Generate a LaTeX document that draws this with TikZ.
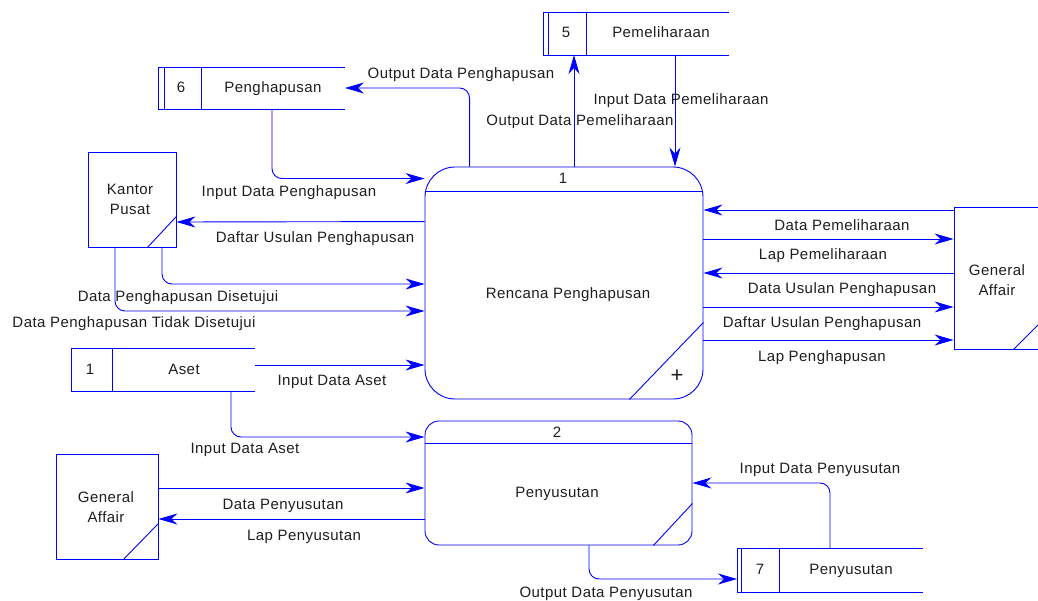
\documentclass[tikz,border=0pt]{standalone}
\usepackage{fontspec}
\usetikzlibrary{arrows.meta,calc}
\newfontfamily\dfdfont[LetterSpace=3]{Liberation Sans}
\definecolor{dfdblue}{RGB}{0,0,255}
\definecolor{ink}{RGB}{30,30,30}
\tikzset{
  line/.style={draw=dfdblue, line width=0.9pt},
  flow/.style={line, rounded corners=10pt, -{Stealth[length=19pt,width=11pt,inset=6pt]}},
  lbl/.style={text=ink, font=\dfdfont\fontsize{15}{20}\selectfont, inner sep=0pt, text height=11pt, text depth=3pt},
  boxtxt/.style={text=ink, font=\dfdfont\fontsize{15}{20}\selectfont, inner sep=0pt, align=center},
  storebox/.style={inner sep=0pt, outer sep=0pt},
}
\begin{document}
\begin{tikzpicture}[x=1pt,y=-1pt]
\useasboundingbox (0,0) rectangle (1038,601);

% ---------- processes ----------
\node[line, inner sep=0pt, minimum width=278pt, minimum height=232pt, rounded corners=30pt] (p1) at (564,283) {};
\draw[line] ([yshift=-25pt]p1.north west) -- ([yshift=-25pt]p1.north east);
\draw[line] ([xshift=-74pt]p1.south east) -- ([yshift=77pt]p1.south east);
\node[lbl] (p1id) at (563,180) {1};
\node[lbl] (p1name) at (568,295) {Rencana Penghapusan};
\node[text=ink, font=\dfdfont\fontsize{22}{22}\selectfont, inner sep=0pt] (p1plus) at (677,376) {+};

\node[line, inner sep=0pt, minimum width=267pt, minimum height=124pt, rounded corners=14pt] (p2) at (558.5,483) {};
\draw[line] ([yshift=-23pt]p2.north west) -- ([yshift=-23pt]p2.north east);
\draw[line] ([xshift=-39pt]p2.south east) -- ([yshift=42pt]p2.south east);
\node[lbl] (p2id) at (557,433) {2};
\node[lbl] (p2name) at (557,493) {Penyusutan};

% ---------- data stores ----------
\node[storebox, minimum width=186pt, minimum height=43pt] (s5) at (636,33.5) {};
\draw[line] (s5.north east) -- (s5.north west) -- (s5.south west) -- (s5.south east);
\draw[line] ([xshift=5pt]s5.north west) -- ([xshift=5pt]s5.south west);
\draw[line] ([xshift=43pt]s5.north west) -- ([xshift=43pt]s5.south west);
\node[lbl] (s5id) at (566,34) {5};
\node[lbl] (s5name) at (661,34) {Pemeliharaan};

\node[storebox, minimum width=187pt, minimum height=42pt] (s6) at (251.5,88) {};
\draw[line] (s6.north east) -- (s6.north west) -- (s6.south west) -- (s6.south east);
\draw[line] ([xshift=6pt]s6.north west) -- ([xshift=6pt]s6.south west);
\draw[line] ([xshift=43pt]s6.north west) -- ([xshift=43pt]s6.south west);
\node[lbl] (s6id) at (181,89) {6};
\node[lbl] (s6name) at (273,89) {Penghapusan};

\node[storebox, minimum width=184pt, minimum height=43pt] (s1) at (163,369.5) {};
\draw[line] (s1.north east) -- (s1.north west) -- (s1.south west) -- (s1.south east);
\draw[line] ([xshift=41pt]s1.north west) -- ([xshift=41pt]s1.south west);
\node[lbl] (s1id) at (90,370) {1};
\node[lbl] (s1name) at (184,370) {Aset};

\node[storebox, minimum width=186pt, minimum height=44pt] (s7) at (830,570) {};
\draw[line] (s7.north east) -- (s7.north west) -- (s7.south west) -- (s7.south east);
\draw[line] ([xshift=4pt]s7.north west) -- ([xshift=4pt]s7.south west);
\draw[line] ([xshift=42pt]s7.north west) -- ([xshift=42pt]s7.south west);
\node[lbl] (s7id) at (760,570) {7};
\node[lbl] (s7name) at (851,570) {Penyusutan};

% ---------- external entities ----------
\node[line, inner sep=0pt, minimum width=88pt, minimum height=95pt] (kp) at (132,199.5) {};
\draw[line] ([xshift=-29pt]kp.south east) -- ([yshift=31pt]kp.south east);
\node[boxtxt] (kptxt) at (130,199) {Kantor\\Pusat};

\node[line, inner sep=0pt, minimum width=102pt, minimum height=105pt] (gal) at (107,506.5) {};
\draw[line] ([xshift=-35pt]gal.south east) -- ([yshift=36pt]gal.south east);
\node[boxtxt] (galtxt) at (106,507) {General\\Affair};

\node[line, inner sep=0pt, minimum width=86pt, minimum height=142pt] (gar) at (997,278) {};
\draw[line] ([xshift=-27pt]gar.south east) -- ([yshift=27pt]gar.south east);
\node[boxtxt] (gartxt) at (997,280) {General\\Affair};

% ---------- flows: top ----------
\draw[flow] ($(p1.north west)+(45,0)$) |- (s6.east);
\node[lbl] (f1) at (461,75) {Output Data Penghapusan};

\draw[flow] ($(s6.south)+(20.5,0)$) |- ($(p1.north west)+(0,12)$);
\node[lbl] (f2) at (289,193) {Input Data Penghapusan};

\draw[flow] ($(p1.north)+(10,0)$) -- ($(s5.south)+(-62,0)$);
\node[lbl] (f3) at (580,122) {Output Data Pemeliharaan};

\draw[flow] ($(s5.south)+(39,0)$) -- ($(p1.north)+(111,0)$);
\node[lbl] (f4) at (681,101) {Input Data Pemeliharaan};

% ---------- flows: Kantor Pusat ----------
\draw[flow] ($(p1.north west)+(0,55)$) -- ($(kp.east)+(0,22.5)$);
\node[lbl] (f5) at (315,239) {Daftar Usulan Penghapusan};

\draw[flow] ($(kp.south)+(30,0)$) |- ($(p1.west)+(0,1)$);
\node[lbl] (f6) at (178,298) {Data Penghapusan Disetujui};

\draw[flow] ($(kp.south)+(-17,0)$) |- ($(p1.west)+(0,28)$);
\node[lbl] (f7) at (134,323) {Data Penghapusan Tidak Disetujui};

% ---------- flows: Aset ----------
\draw[flow] ($(s1.east)+(0,-4.5)$) -- ($(p1.west)+(0,82)$);
\node[lbl] (f8) at (332,381) {Input Data Aset};

\draw[flow] ($(s1.south)+(68,0)$) |- ($(p2.west)+(0,-46)$);
\node[lbl] (f9) at (245,449) {Input Data Aset};

% ---------- flows: General Affair (left) ----------
\draw[flow] ($(gal.east)+(0,-18.5)$) -- ($(p2.west)+(0,5)$);
\node[lbl] (f10) at (283,505) {Data Penyusutan};

\draw[flow] ($(p2.west)+(0,36)$) -- ($(gal.east)+(0,12.5)$);
\node[lbl] (f11) at (304,536) {Lap Penyusutan};

% ---------- flows: Penyusutan store ----------
\draw[flow] ($(p2.south)+(30.5,0)$) |- ($(s7.west)+(0,9)$);
\node[lbl] (f12) at (606,593) {Output Data Penyusutan};

\draw[flow] (s7.north) |- (p2.east);
\node[lbl] (f13) at (820,469) {Input Data Penyusutan};

% ---------- flows: General Affair (right) ----------
\draw[flow] ($(gar.west)+(0,-68)$) -- ($(p1.east)+(0,-73)$);
\node[lbl] (f14) at (842,227) {Data Pemeliharaan};

\draw[flow] ($(p1.east)+(0,-44)$) -- ($(gar.west)+(0,-39)$);
\node[lbl] (f15) at (823,256) {Lap Pemeliharaan};

\draw[flow] ($(gar.west)+(0,-5)$) -- ($(p1.east)+(0,-10)$);
\node[lbl] (f16) at (842,290) {Data Usulan Penghapusan};

\draw[flow] ($(p1.east)+(0,24)$) -- ($(gar.west)+(0,29)$);
\node[lbl] (f17) at (822,323) {Daftar Usulan Penghapusan};

\draw[flow] ($(p1.east)+(0,57)$) -- ($(gar.west)+(0,62)$);
\node[lbl] (f18) at (822,357) {Lap Penghapusan};
\end{tikzpicture}
\end{document}
